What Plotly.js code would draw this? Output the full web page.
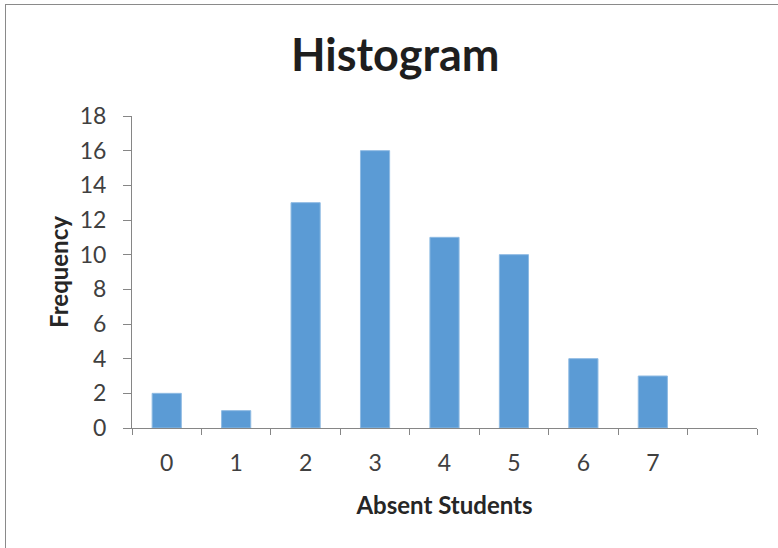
<!DOCTYPE html>
<html>
<head>
<meta charset="utf-8">
<script src="https://cdn.plot.ly/plotly-3.0.1.min.js"></script>
<style>
html, body { margin: 0; padding: 0; background: #fff; }
#wrap { position: relative; width: 778px; height: 548px; overflow: hidden; }
#chart { width: 778px; height: 548px; }
#frame { position: absolute; left: 5px; top: 4px; width: 800px; height: 600px;
  border-top: 1px solid #8a8a8a; border-left: 1px solid #8a8a8a; pointer-events: none; }
</style>
</head>
<body>
<div id="wrap">
<div id="chart"></div>
<div id="frame"></div>
</div>
<script>
var bins = ["0", "1", "2", "3", "4", "5", "6", "7", "More"];
var binLabels = ["0", "1", "2", "3", "4", "5", "6", "7", ""];
var frequency = [2, 1, 13, 16, 11, 10, 4, 3, null];
var yTicks = [0, 2, 4, 6, 8, 10, 12, 14, 16, 18];

var FONT = "Lato, 'Open Sans', sans-serif";
var AXIS_COLOR = "#868686";

var trace = {
  type: "bar",
  x: bins,
  y: frequency,
  marker: { color: "#5B9BD5", line: { color: "#8fbbe3", width: 1 } },
  hoverinfo: "x+y"
};

var layout = {
  width: 778,
  height: 548,
  margin: { l: 132, r: 21, t: 116, b: 120 },
  paper_bgcolor: "#ffffff",
  plot_bgcolor: "#ffffff",
  showlegend: false,
  bargap: 0.58,
  font: { family: FONT, color: "#404040" },
  title: {
    text: "<b>Histogram</b>",
    font: { family: FONT, size: 45, color: "#1e1e1e" },
    x: 0.508, xanchor: "center",
    y: 0.9, yanchor: "middle"
  },
  xaxis: {
    type: "category",
    categoryorder: "array",
    categoryarray: bins,
    tickmode: "array",
    tickvals: bins,
    ticktext: binLabels,
    range: [-0.5, 8.5],
    tickson: "boundaries",
    ticks: "outside",
    ticklen: 6,
    tickcolor: AXIS_COLOR,
    showline: true,
    linecolor: AXIS_COLOR,
    linewidth: 1,
    showgrid: false,
    zeroline: false,
    ticklabelstandoff: 14,
    tickfont: { family: FONT, size: 23, color: "#404040" },
    title: { text: "<b>Absent Students</b>", font: { family: FONT, size: 24, color: "#262626" }, standoff: 22 }
  },
  yaxis: {
    range: [0, 18],
    tickmode: "array",
    tickvals: yTicks,
    ticks: "outside",
    ticklen: 8,
    tickcolor: AXIS_COLOR,
    showline: true,
    linecolor: AXIS_COLOR,
    linewidth: 1,
    showgrid: false,
    zeroline: false,
    ticklabelstandoff: 12,
    tickfont: { family: FONT, size: 23, color: "#404040" },
    title: { text: "<b>Frequency</b>", font: { family: FONT, size: 24, color: "#262626" }, standoff: 4 }
  }
};

Plotly.newPlot("chart", [trace], layout, { displayModeBar: false, staticPlot: true });
</script>
</body>
</html>
